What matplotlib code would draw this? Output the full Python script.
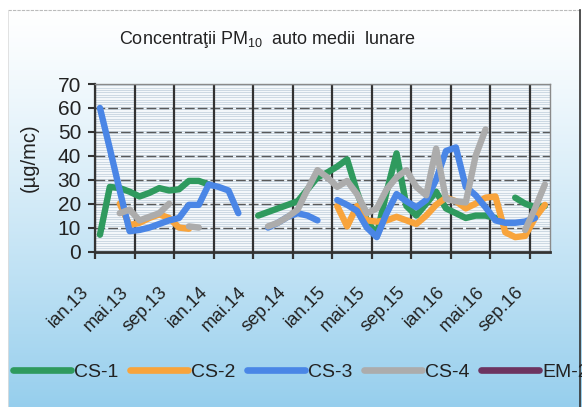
import numpy as np
import matplotlib
matplotlib.use("Agg")
import matplotlib.pyplot as plt
from matplotlib import transforms
from matplotlib.lines import Line2D

plt.rcParams['font.family'] = ['Liberation Sans', 'DejaVu Sans']
plt.rcParams['mathtext.fontset'] = 'custom'
plt.rcParams['mathtext.rm'] = 'Liberation Sans'
plt.rcParams['mathtext.it'] = 'Liberation Sans:italic'

# Date: luni ian.13 .. oct.16 (46 luni), None = lipsă
tick_labels = ["ian.13", "mai.13", "sep.13", "ian.14", "mai.14", "sep.14",
               "ian.15", "mai.15", "sep.15", "ian.16", "mai.16", "sep.16"]

cs1 = [7, 27, 26.5, 25, 23, 24.5, 26.5, 25.5, 26, 29.5, 29.5, 28,
       None, None, None, None, 15, 16.5, 18, 19.5, 21, 26, 31, 33,
       35.5, 38.5, 25, 13, 7, 25, 41, 19, 15, 20, 25, 18,
       16, 14, 15, 15, 14, None, 22.5, 20, 18.5, 19]
cs2 = [None, None, 20, 11, 12, 14, 15.5, 14, 10, 9.5, None, None,
       None, None, None, None, None, None, None, None, None, None, None, None,
       19, 10.5, 19, 13, 12.5, 13, 14.5, 13, 11.5, 15, 19.5, 22.5,
       21, 18, 20, 22.5, 23, 8, 6, 6.5, 14, 19.5]
cs3 = [60, 43, 25.5, 8.5, 9, 10, 11.5, 13, 14, 19.5, 19.5, 28,
       27, 25.5, 16, None, None, 10, 12, 14.5, 16, 15, 13, None,
       21.5, 19.5, 17, 10, 6, 16, 24, 21, 18.5, 21.5, 30, 42,
       43.5, 27, 23.5, 18.5, 13, 12, 12, 12.5, 14, None]
cs4 = [None, None, 16, 17.5, 13, 14.5, 16, 20, None, 10.5, 10, None,
       None, None, None, None, None, 10.5, 12, 14.5, 17.5, 26, 34, 31,
       27, 29.5, 24, 16, 18, 26, 31, 34, 27, 23.5, 43, 22,
       21, 20.5, 40, 51, None, None, None, 9, 18, 28]
em2 = [None] * 46

series = [("CS-1", cs1, "#2f9a5e"), ("CS-2", cs2, "#f8a43c"),
          ("CS-3", cs3, "#4a86e6"), ("CS-4", cs4, "#acacac"),
          ("EM-2", em2, "#6d3460")]

W, H = 582, 407
fig = plt.figure(figsize=(W / 100, H / 100), dpi=100)

# fundal cu gradient
bg = fig.add_axes([0, 0, 1, 1], zorder=-10)
bg.set_xlim(0, W)
bg.set_ylim(H, 0)
bg.axis('off')
t = np.linspace(0, 1, 256) ** 1.2
top = np.array([1.0, 1.0, 1.0])
bot = np.array([0.59, 0.81, 0.93])
grad = (top[None, :] * (1 - t[:, None]) + bot[None, :] * t[:, None])[:, None, :]
bg.imshow(grad, extent=(8, W, H, 10), aspect='auto')
bg.plot([8, 580], [10, 10], color='#bbbbbb', lw=0.8, ls=(0, (3, 1)))
bg.plot([580, 580], [10, H], color='#333333', lw=1.2)
bg.plot([8, 8], [10, H], color='#dddddd', lw=0.6)

# zona graficului
x0, x1, y0, y1 = 95, 549.8, 84, 251.5
ax = fig.add_axes([x0 / W, 1 - y1 / H, (x1 - x0) / W, (y1 - y0) / H])
ax.set_facecolor('#f3f7fa')
for v in np.arange(0.5, 70, 1.0):
    ax.axhline(v, color='#c6d4df', lw=0.6, zorder=0)
for v in range(10, 70, 10):
    ax.axhline(v, color='#5a5a5a', lw=1.0, ls=(0, (7, 2.2)), zorder=1)
for v in range(0, 46, 4):
    ax.axvline(v, color='#333333', lw=1.6, zorder=1)

xs = np.arange(46) + 0.5
handles = []
for name, vals, col in series:
    y = np.array([np.nan if v is None else v for v in vals], dtype=float)
    ax.plot(xs, y, color=col, lw=4.6, solid_capstyle='round',
            solid_joinstyle='round', zorder=3)
    handles.append(Line2D([], [], color=col, lw=4.8, solid_capstyle='round', label=name))

ax.set_xlim(0, 46)
ax.set_ylim(0, 70)
ax.set_yticks(range(0, 71, 10))
ax.set_xticks(range(0, 46, 4))
ax.set_xticklabels(tick_labels, rotation=45, ha='right')
ax.tick_params(axis='y', length=5, width=1.5, color='#333333', labelsize=15,
               pad=5, labelcolor='#222222')
ax.tick_params(axis='x', length=5, width=1.6, color='#333333', labelsize=13.3,
               pad=18, labelcolor='#222222')
off = transforms.ScaledTranslation(-0.03, 0, fig.dpi_scale_trans)
for lab in ax.get_xticklabels():
    lab.set_transform(lab.get_transform() + off)

ax.spines['left'].set_color('#333333')
ax.spines['left'].set_linewidth(1.6)
ax.spines['bottom'].set_color('#333333')
ax.spines['bottom'].set_linewidth(2)
for s in ('top', 'right'):
    ax.spines[s].set_color('#8a8a8a')
    ax.spines[s].set_linewidth(1)

fig.text(268 / W, 1 - 40 / H, "Concentraţii PM$_{10}$  auto medii  lunare",
         ha='center', va='center', fontsize=13, color='#222222')
fig.text(29 / W, 1 - 158 / H, "(µg/mc)", rotation=90, ha='center',
         va='center', fontsize=14.5, color='#222222')

fig.legend(handles=handles, ncol=5, loc='center left',
           bbox_to_anchor=(13 / W, 1 - 372 / H), frameon=False,
           fontsize=14, handlelength=3.0, handletextpad=0.15,
           columnspacing=0.58, borderpad=0, borderaxespad=0,
           labelcolor='#222222')

fig.savefig("out.png", dpi=100)
